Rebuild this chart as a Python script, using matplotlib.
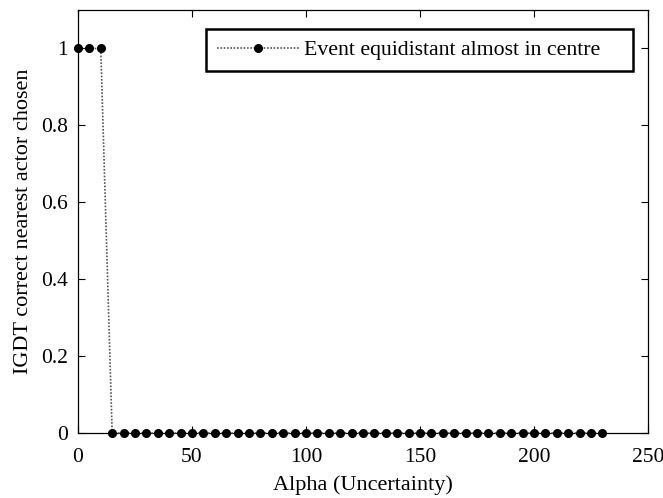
import numpy as np
import matplotlib.pyplot as plt

plt.rcParams['font.family'] = ['Liberation Serif', 'DejaVu Serif']
plt.rcParams['mathtext.fontset'] = 'stix'

# alpha sweep and whether IGDT picked the correct nearest actor
alpha = [0, 5, 10] + list(range(15, 235, 5))
chosen = [1, 1, 1] + [0] * len(range(15, 235, 5))

fig = plt.figure(figsize=(6.63, 4.98), dpi=100)
ax = fig.add_axes([0.1176, 0.1305, 0.8597, 0.8494])

ax.plot(alpha, chosen, color='#555555', linestyle=(0, (1, 1)), linewidth=1.2,
        marker='o', markersize=5.5, markerfacecolor='black', markeredgecolor='black',
        label='Event equidistant almost in centre    ', clip_on=False, zorder=3)

ax.set_xlim(0, 250)
ax.set_ylim(0, 1.1)
ax.set_xticks([0, 50, 100, 150, 200, 250])
ax.set_yticks([0, 0.2, 0.4, 0.6, 0.8, 1])
ax.set_yticklabels(['0', '0.2', '0.4', '0.6', '0.8', '1'])
ax.tick_params(direction='in', top=True, right=True, labelsize=15.5, length=5,
               width=0.8)
ax.tick_params(axis='x', pad=11)
ax.tick_params(axis='y', pad=7)
for s in ax.spines.values():
    s.set_linewidth(0.9)

ax.set_xlabel('Alpha (Uncertainty)', fontsize=16, labelpad=6)
ax.set_ylabel('IGDT correct nearest actor chosen', fontsize=16, labelpad=6)

leg = ax.legend(loc='upper right', bbox_to_anchor=(0.974, 0.955), borderaxespad=0,
                fontsize=15.7, fancybox=False, framealpha=1, edgecolor='black',
                handlelength=3.8, borderpad=0.5, handletextpad=0.2)
leg.get_frame().set_linewidth(1.8)

fig.savefig('out.png', dpi=100)
